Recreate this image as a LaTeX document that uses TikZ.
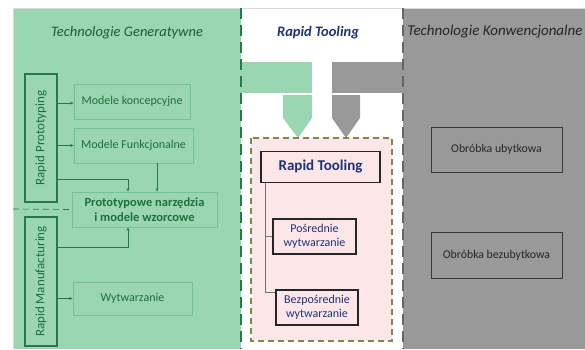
\documentclass[tikz,border=0pt]{standalone}
\usepackage{fontspec}
\usepackage{graphicx}
\setmainfont{Carlito}
\usetikzlibrary{arrows.meta}
\definecolor{gfill}{RGB}{155,214,178}
\definecolor{gline}{RGB}{115,196,148}
\definecolor{gdark}{RGB}{40,120,75}
\definecolor{gtext}{RGB}{28,112,62}
\definecolor{grfill}{RGB}{153,153,153}
\definecolor{grdark}{RGB}{55,55,55}
\definecolor{pinkfill}{RGB}{252,230,232}
\definecolor{olive}{RGB}{125,135,80}
\definecolor{navy}{RGB}{30,50,120}
\tikzset{
  gbox/.style={draw=gline, line width=0.8pt, text=gtext, align=center, font=\fontsize{12}{14}\selectfont},
  rbox/.style={draw=gdark, line width=1.3pt, text=gtext, font=\fontsize{13}{15}\selectfont},
  nbox/.style={draw=black!85, line width=1.2pt, fill=pinkfill, text=navy, align=center, font=\fontsize{12}{14}\selectfont},
  kbox/.style={draw=grdark, line width=1pt, text=black!85, align=center, font=\fontsize{11.8}{14}\selectfont},
  garr/.style={draw=gdark, line width=0.7pt, -{Stealth[length=3.5pt,width=3pt]}},
  title/.style={font=\fontsize{14.5}{17}\selectfont\itshape}
}
\begin{document}
\begin{tikzpicture}[x=1pt,y=-1pt]
\useasboundingbox (0,0) rectangle (585,349);
\fill[white] (0,0) rectangle (585,349);
% panels
\fill[gfill] (13,8) rectangle (241,349);
\fill[grfill] (403,8) rectangle (585,349);
\draw[black!15, line width=0.8pt] (13,349) -- (13,8) -- (585,8);
% bands and pointers
\fill[gfill] (241,62) rectangle (312,93);
\fill[gfill] (283,95) -- (312,95) -- (312,118) -- (298,138) -- (283,118) -- cycle;
\fill[grfill] (332,62) rectangle (403,93);
\fill[grfill] (332,95) -- (360,95) -- (360,118) -- (346,138) -- (332,118) -- cycle;
% separators
\draw[gdark, line width=1.5pt, dash pattern=on 11pt off 6pt] (241,8) -- (241,349);
\draw[black!60, line width=1.5pt, dash pattern=on 11pt off 6pt] (403,8) -- (403,349);
% pink box
\draw[olive, fill=pinkfill, line width=1.2pt, dash pattern=on 6pt off 4pt] (251,138) rectangle (392,341);
% titles
\node[title, text=gtext!85!black] (tg) at (127,33) {Technologie Generatywne};
\node[title, text=navy, font=\fontsize{14.5}{17}\selectfont\bfseries\itshape] (trt) at (318,33) {Rapid Tooling};
\node[title, text=black!85, font=\fontsize{15}{17}\selectfont\itshape] (tk) at (495,32) {Technologie Konwencjonalne};
% left nodes
\node[rbox, minimum width=32pt, minimum height=128pt, inner sep=0pt] (rp) at (41,138) {\rotatebox{90}{Rapid Prototyping}};
\node[rbox, minimum width=32pt, minimum height=129pt, inner sep=0pt] (rm) at (41,281.5) {\rotatebox{90}{Rapid Manufacturing}};
\node[gbox, minimum width=116pt, minimum height=35pt] (mk) at (132,101.5) {Modele koncepcyjne};
\node[gbox, minimum width=119pt, minimum height=35pt] (mf) at (133.5,145.5) {Modele Funkcjonalne};
\node[gbox, minimum width=145pt, minimum height=35pt, font=\fontsize{12.5}{14.5}\selectfont\bfseries, inner sep=1pt] (pr) at (144.5,209.5) {Prototypowe narzędzia\\i modele wzorcowe};
\node[gbox, minimum width=119pt, minimum height=33pt] (wy) at (132.5,298.5) {Wytwarzanie};
\draw[gdark, line width=0.7pt, dash pattern=on 6pt off 4pt] (13,209) -- (pr.west);
% left connectors
\draw[garr] (rp.east |- 0,103) -- (mk.west |- 0,103);
\draw[garr] (rp.east |- mf.west) -- (mf.west);
\draw[garr] (mf.south -| 157,0) -- (pr.north -| 157,0);
\draw[garr] (rp.east |- 0,179) -| (pr.north -| 128,0);
\draw[garr] (rm.east |- 0,247) -| (pr.south -| 128,0);
\draw[garr] (rm.east |- wy.west) -- (wy.west);
% rapid tooling nodes
\node[nbox, minimum width=119pt, minimum height=31pt, font=\fontsize{15}{17}\selectfont\bfseries] (rt) at (320.5,167) {Rapid Tooling};
\node[nbox, minimum width=83pt, minimum height=35pt, inner sep=1pt] (po) at (314.5,236.5) {Pośrednie\\wytwarzanie};
\node[nbox, minimum width=82pt, minimum height=35pt, inner sep=1pt] (bz) at (317,307.5) {Bezpośrednie\\wytwarzanie};
\draw[black!55, line width=0.5pt] (rt.south -| 265,0) |- (po.west);
\draw[black!55, line width=0.5pt] (rt.south -| 265,0) |- (bz.west |- 0,292);
% conventional nodes
\node[kbox, minimum width=131pt, minimum height=45pt] (ou) at (496.5,149.5) {Obróbka ubytkowa};
\node[kbox, minimum width=131pt, minimum height=46pt] (ob) at (496.5,255) {Obróbka bezubytkowa};
\end{tikzpicture}
\end{document}
